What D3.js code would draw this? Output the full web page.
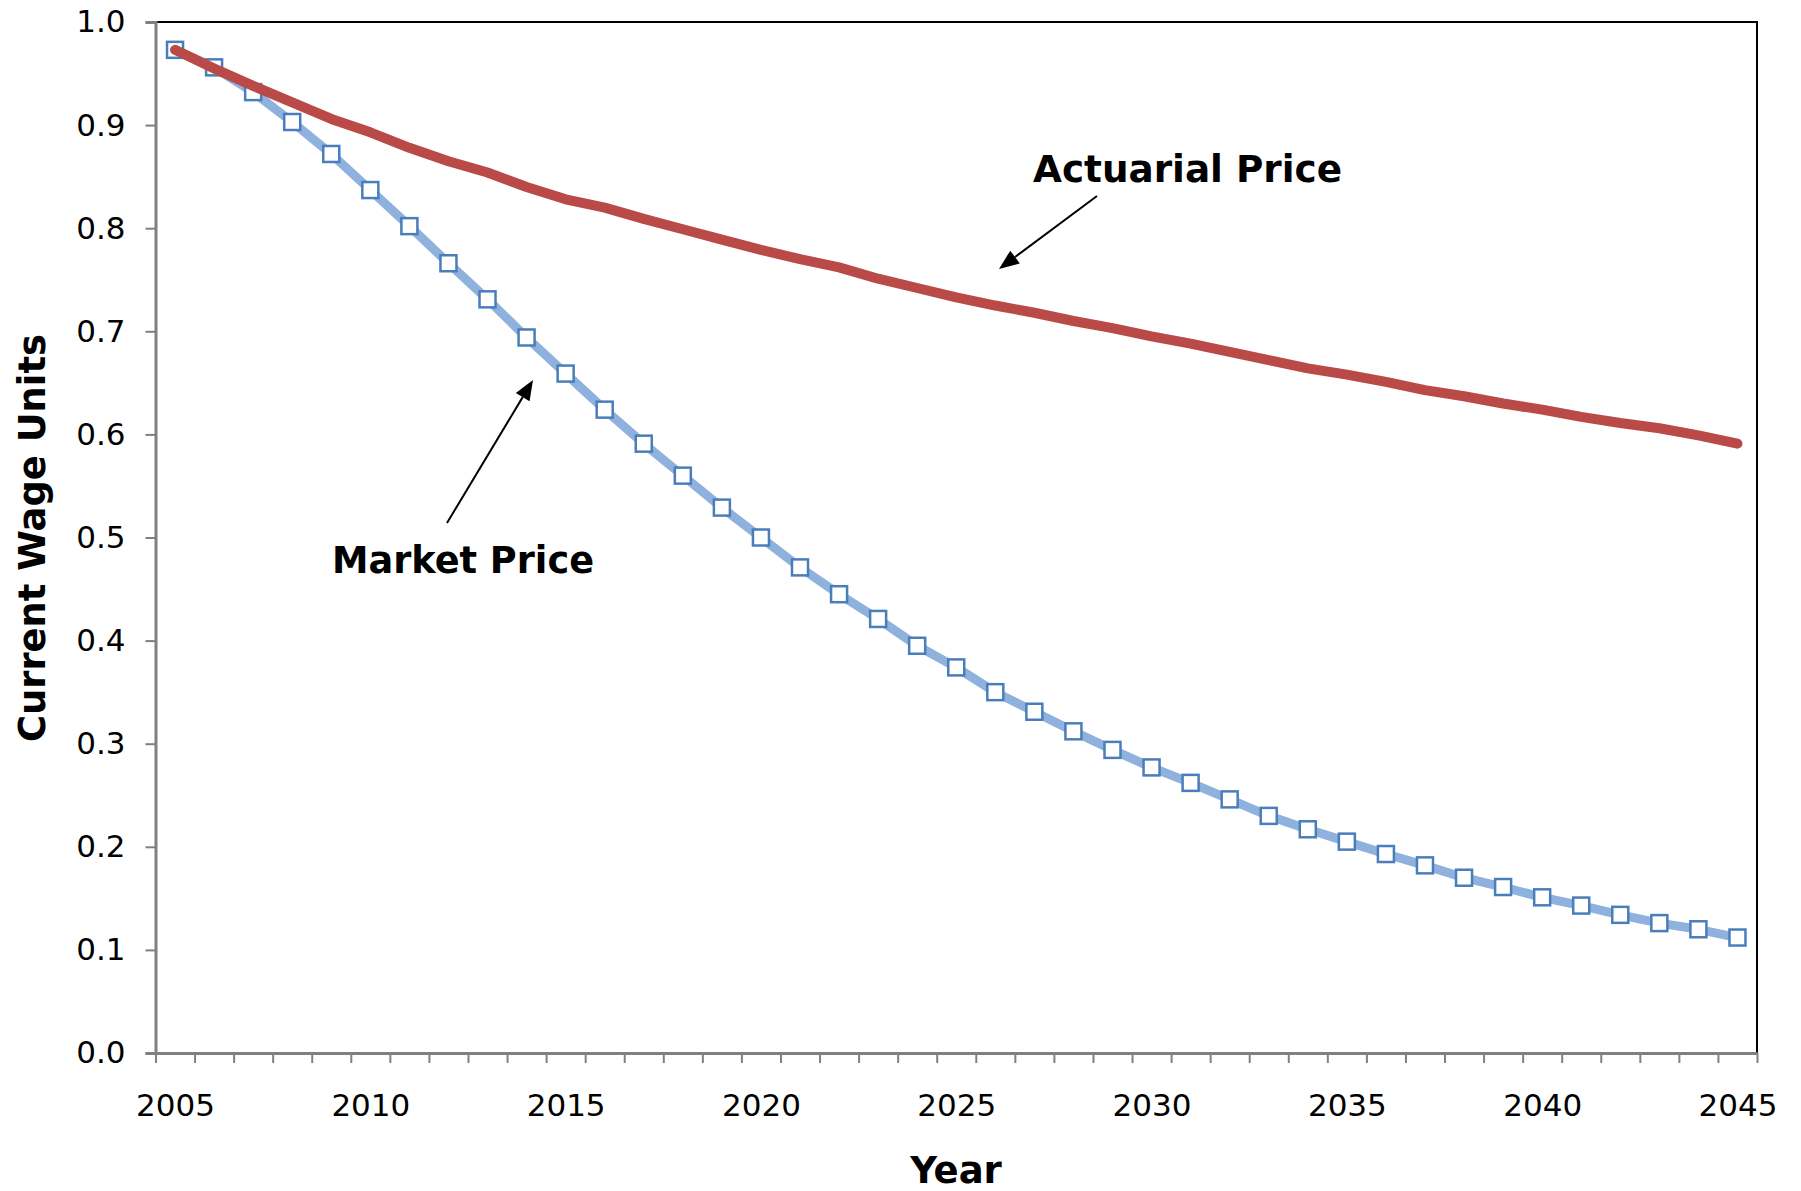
<!DOCTYPE html>
<html>
<head>
<meta charset="utf-8">
<script src="https://cdn.jsdelivr.net/npm/d3@7"></script>
<style>
  html, body { margin: 0; padding: 0; background: #fff; }
  svg { display: block; font-family: "DejaVu Sans", Verdana, sans-serif; }
</style>
</head>
<body>
<svg id="chart" width="1801" height="1191"></svg>
<script>
const years = d3.range(2005, 2046);
const marketPrice = [0.973, 0.956, 0.932, 0.903, 0.872, 0.837, 0.802, 0.766, 0.731, 0.694,
  0.659, 0.624, 0.591, 0.560, 0.529, 0.500, 0.471, 0.445, 0.421, 0.395,
  0.374, 0.350, 0.331, 0.312, 0.294, 0.277, 0.262, 0.246, 0.230, 0.217,
  0.205, 0.193, 0.182, 0.170, 0.161, 0.151, 0.143, 0.134, 0.126, 0.120, 0.112];
const actuarialPrice = [0.973, 0.955, 0.938, 0.922, 0.906, 0.893, 0.878, 0.865, 0.854, 0.840,
  0.828, 0.820, 0.809, 0.799, 0.789, 0.779, 0.770, 0.762, 0.751, 0.742,
  0.733, 0.725, 0.718, 0.710, 0.703, 0.695, 0.688, 0.680, 0.672, 0.664,
  0.658, 0.651, 0.643, 0.637, 0.630, 0.624, 0.617, 0.611, 0.606, 0.599, 0.591];
const yTicks = d3.range(0, 11).map(d => d / 10);
const xLabelYears = d3.range(2005, 2046, 5);
const xTitle = "Year";
const yTitle = "Current Wage Units";
const annotations = [
  { text: "Actuarial Price", x: 1033, y: 182, width: 309, from: [1097, 196], to: [999, 269] },
  { text: "Market Price", x: 332, y: 573, width: 262, from: [447, 523], to: [533, 380] }
];

(function () {
const svg = d3.select("#chart");
const pLeft = 155.5, pRight = 1757, pTop = 22, pBottom = 1053;

const x = d3.scaleLinear().domain([2004.5, 2045.5]).range([pLeft, pRight]);
const y = d3.scaleLinear().domain([0, 1]).range([pBottom, pTop]);

// plot border (top & right black)
svg.append("path")
  .attr("d", `M${pLeft},${pTop}H${pRight}V${pBottom}`)
  .attr("fill", "none").attr("stroke", "#000").attr("stroke-width", 2);

// y axis
const yAxis = svg.append("g").attr("transform", `translate(${pLeft},0)`)
  .call(d3.axisLeft(y).tickValues(yTicks).tickFormat(d3.format(".1f")).tickSize(10).tickPadding(20));
yAxis.select(".domain").attr("stroke", "#808080").attr("stroke-width", 3);
yAxis.selectAll(".tick line").attr("stroke", "#808080").attr("stroke-width", 2);
yAxis.selectAll(".tick text").attr("font-size", 31).attr("fill", "#000")
  .attr("font-family", "DejaVu Sans");

// x axis ticks at category boundaries
const xAxisTicks = svg.append("g").attr("transform", `translate(0,${pBottom})`)
  .call(d3.axisBottom(x).tickValues(d3.range(2004.5, 2046, 1)).tickFormat("").tickSize(10).tickSizeOuter(0));
xAxisTicks.select(".domain").attr("stroke", "#808080").attr("stroke-width", 3);
xAxisTicks.selectAll(".tick line").attr("stroke", "#808080").attr("stroke-width", 2);

// x labels centered on categories
const xAxisLabels = svg.append("g").attr("transform", `translate(0,${pBottom})`)
  .call(d3.axisBottom(x).tickValues(xLabelYears).tickFormat(d3.format("d")).tickSize(0).tickPadding(41));
xAxisLabels.select(".domain").remove();
xAxisLabels.selectAll(".tick text").attr("font-size", 31).attr("fill", "#000")
  .attr("font-family", "DejaVu Sans");

// Market price line
const line = d3.line().x((d, i) => x(years[i])).y(d => y(d));
svg.append("path").datum(marketPrice)
  .attr("d", line)
  .attr("fill", "none").attr("stroke", "#8eb2dd").attr("stroke-width", 9)
  .attr("stroke-linejoin", "round").attr("stroke-linecap", "round");

const ms = 16;
svg.append("g").selectAll("rect").data(marketPrice).join("rect")
  .attr("x", (d, i) => x(years[i]) - ms / 2)
  .attr("y", d => y(d) - ms / 2)
  .attr("width", ms).attr("height", ms)
  .attr("fill", "#fff").attr("stroke", "#4a7ebb").attr("stroke-width", 2.5);

// Actuarial price line
svg.append("path").datum(actuarialPrice)
  .attr("d", line)
  .attr("fill", "none").attr("stroke", "#b94a47").attr("stroke-width", 10)
  .attr("stroke-linejoin", "round").attr("stroke-linecap", "round");

// annotations
annotations.forEach(a => {
  svg.append("text").attr("x", a.x).attr("y", a.y).text(a.text)
    .attr("font-size", 37).attr("font-weight", "bold").attr("fill", "#000")
    .attr("textLength", a.width)
    .attr("lengthAdjust", "spacingAndGlyphs");
  const [x1, y1] = a.from, [x2, y2] = a.to;
  const ang = Math.atan2(y2 - y1, x2 - x1);
  const hl = 20, hw = 8;
  const bx = x2 - hl * Math.cos(ang), by = y2 - hl * Math.sin(ang);
  svg.append("line").attr("x1", x1).attr("y1", y1).attr("x2", bx).attr("y2", by)
    .attr("stroke", "#000").attr("stroke-width", 2);
  const px = -Math.sin(ang), py = Math.cos(ang);
  svg.append("path")
    .attr("d", `M${x2},${y2}L${bx + hw * px},${by + hw * py}L${bx - hw * px},${by - hw * py}Z`)
    .attr("fill", "#000");
});

// axis titles
svg.append("text").attr("x", 956).attr("y", 1183).attr("text-anchor", "middle")
  .attr("font-size", 37).attr("font-weight", "bold").text(xTitle);
svg.append("text").attr("transform", "translate(45,538) rotate(-90)").attr("text-anchor", "middle")
  .attr("font-size", 37).attr("font-weight", "bold")
  .attr("textLength", 408).attr("lengthAdjust", "spacingAndGlyphs").text(yTitle);
})();
</script>
</body>
</html>
